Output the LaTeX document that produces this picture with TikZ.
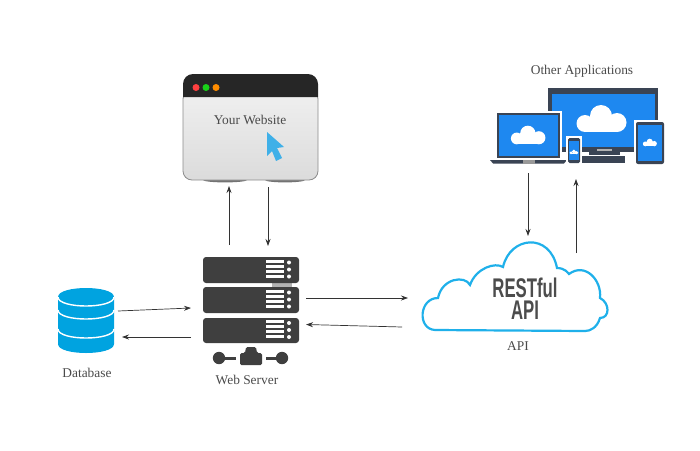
\documentclass[tikz,border=0pt]{standalone}
\usepackage{fontspec}
\setmainfont{Liberation Serif}
\newfontfamily\headfont{Liberation Sans}
\usetikzlibrary{arrows.meta}
\definecolor{inktext}{HTML}{4A4A4A}
\definecolor{dbblue}{HTML}{00A3E0}
\definecolor{devblue}{HTML}{1E88F0}
\definecolor{devframe}{HTML}{3A4454}
\definecolor{rackgrey}{HTML}{3F3F3F}
\definecolor{cloudline}{HTML}{1FB0EA}
\definecolor{cursorblue}{HTML}{3FB0E8}
\tikzset{
  x=1pt, y=-1pt,
  link/.style={draw=black!80, line width=0.7pt, -{Stealth[length=7pt,width=5pt]}},
  caption/.style={font=\fontsize{13.4}{15}\selectfont, text=inktext, inner sep=0pt},
  logotext/.style={inner sep=0pt, align=center,
    font=\headfont\bfseries\fontsize{27}{22.5}\selectfont, text=black!70, xscale=0.62},
  rack/.style={fill=rackgrey, rounded corners=3pt},
  devcloud/.pic={
    \fill[white] (-17,5) circle (8.5) (-1,-2.5) circle (11) (15,4) circle (9.5);
    \fill[white] (-17,5) rectangle (15,13.5);
  },
  serverbars/.pic={
    \fill[white] (266,-10.5) rectangle (284,-7.5);
    \fill[white] (266,-5.5) rectangle (284,-2.5);
    \fill[white] (266,-0.5) rectangle (284,2.5);
    \fill[white] (266,4.5) rectangle (284,7.5);
    \fill[white] (289,-7.5) circle (2);
    \fill[white] (289,-0.5) circle (2);
    \fill[white] (289,6.5) circle (2);
  }
}
\begin{document}
\begin{tikzpicture}
\useasboundingbox (0,0) rectangle (700,450);

% browser window
\fill[black!55] (225,180) ellipse [x radius=22, y radius=2.4];
\fill[black!55] (285,180) ellipse [x radius=20, y radius=2.4];
\draw[draw=black!45, line width=0.8pt, top color=black!6, bottom color=black!14, rounded corners=9pt]
  (183,90) -- (183,180) -- (318,180) -- (318,90) -- cycle;
\fill[black!85, rounded corners=10pt] (183,97) -- (183,74) -- (318,74) -- (318,97);
\fill[black!85] (183,90) rectangle (318,97);
\fill[red!75!white] (196,87.5) circle (3.5);
\fill[green!80!black!90!white] (206,87.5) circle (3.5);
\fill[orange!90!yellow] (216,87.5) circle (3.5);
\node[caption] (site) at (250,120) {Your Website};
\fill[cursorblue] (267,132) -- (284,147) -- (277,148) -- (282,158) -- (276,161) -- (272,151) -- (267,156) -- cycle;

% devices
\node[caption] (apps) at (582,71) {Other Applications};
\fill[devframe] (548,88) rectangle (658,152);
\fill[devblue] (552,94) rectangle (655,147);
\fill[black!30] (597,149) rectangle (612,150.5);
\fill[devframe] (589,152) rectangle (620,155);
\fill[devframe] (582,156) rectangle (625,163);
\pic at (602,118.5) {devcloud};
\fill[white] (495,111) rectangle (562,160);
\fill[devframe] (497,113) rectangle (560,158);
\fill[devblue] (499,115) rectangle (558,156);
\fill[devframe] (490,160) -- (567,160) -- (564,163.5) -- (493,163.5) -- cycle;
\fill[black!40] (523,160) rectangle (535,163.5);
\pic[scale=0.69] at (528.5,135) {devcloud};
\fill[white] (566,136) rectangle (582,165);
\fill[devframe, rounded corners=1.5pt] (568,138) rectangle (580,163);
\fill[devblue] (569,141) rectangle (579,160);
\pic[scale=0.18] at (574,152) {devcloud};
\fill[white] (634,120) rectangle (666,166);
\fill[devframe, rounded corners=2pt] (636,122) rectangle (664,164);
\fill[devblue] (638,125) rectangle (662,161);
\pic[scale=0.28] at (650,142.5) {devcloud};

% web server
\fill[black!30] (272,282) rectangle (292,288);
\fill[rack] (203,257) rectangle (299,283);
\fill[rack] (203,287) rectangle (299,313);
\fill[rack] (203,318) rectangle (299,343);
\pic at (0,270) {serverbars};
\pic at (0,300) {serverbars};
\pic at (0,330.5) {serverbars};
\fill[rackgrey] (219,358) circle (6.2);
\fill[rackgrey] (224,356.5) rectangle (236,359.5);
\fill[rackgrey] (282,358) circle (6.2);
\fill[rackgrey] (266,356.5) rectangle (278,359.5);
\fill[rackgrey, rounded corners=1.5pt] (240,365) -- (240,353) -- (245,353) -- (246,347) -- (256,347) -- (257,353) -- (262,353) -- (262,365) -- cycle;
\node[caption] (server) at (247,380) {Web Server};

% database cylinder: a blue body crossed by white seams
\fill[dbblue] (58,297) .. controls (58,285) and (114,285) .. (114,297)
  -- (114,344) .. controls (114,356) and (58,356) .. (58,344) -- cycle;
\draw[white, line width=1.4pt] (58,297) .. controls (58,309) and (114,309) .. (114,297);
\draw[white, line width=1.4pt] (58,310) .. controls (58,322) and (114,322) .. (114,310);
\draw[white, line width=1.4pt] (58,329) .. controls (58,341) and (114,341) .. (114,329);
\node[caption] (db) at (87,373) {Database};

% API cloud
\draw[cloudline, line width=2.2pt, fill=white]
  (435,330) .. controls (417,329) and (419,298) .. (438,298)
  .. controls (442,278) and (465,275) .. (470,285)
  .. controls (476,268) and (495,262) .. (503,267)
  .. controls (510,236) and (550,232) .. (557,268)
  .. controls (565,268) and (568,273) .. (569,274)
  .. controls (585,262) and (602,280) .. (600,298)
  .. controls (610,303) and (610,318) .. (600,318)
  .. controls (597,328) and (590,331) .. (585,331)
  -- cycle;
\node[logotext] (rest) at (525,298.5) {RESTful\\API};
\node[caption] (api) at (518,346) {API};

% connector ends
\coordinate (siteIn) at (229,186);
\coordinate (serverOut) at (229,245);
\coordinate (siteOut) at (268,187);
\coordinate (serverIn) at (268,246);
\coordinate (srvR1) at (306,298);
\coordinate (apiL1) at (408,298);
\coordinate (apiL2) at (402,327);
\coordinate (srvR2) at (306,324.5);
\coordinate (dbR1) at (118,311);
\coordinate (srvL1) at (191,308);
\coordinate (srvL2) at (191,337);
\coordinate (dbR2) at (122,337);
\coordinate (devDown) at (528,173);
\coordinate (cloudIn) at (528,236);
\coordinate (cloudOut) at (576,253);
\coordinate (devUp) at (576,179);

\draw[link] (serverOut) -- (siteIn);
\draw[link] (siteOut) -- (serverIn);
\draw[link] (srvR1) -- (apiL1);
\draw[link] (apiL2) -- (srvR2);
\draw[link] (dbR1) -- (srvL1);
\draw[link] (srvL2) -- (dbR2);
\draw[link] (devDown) -- (cloudIn);
\draw[link] (cloudOut) -- (devUp);
\end{tikzpicture}
\end{document}
